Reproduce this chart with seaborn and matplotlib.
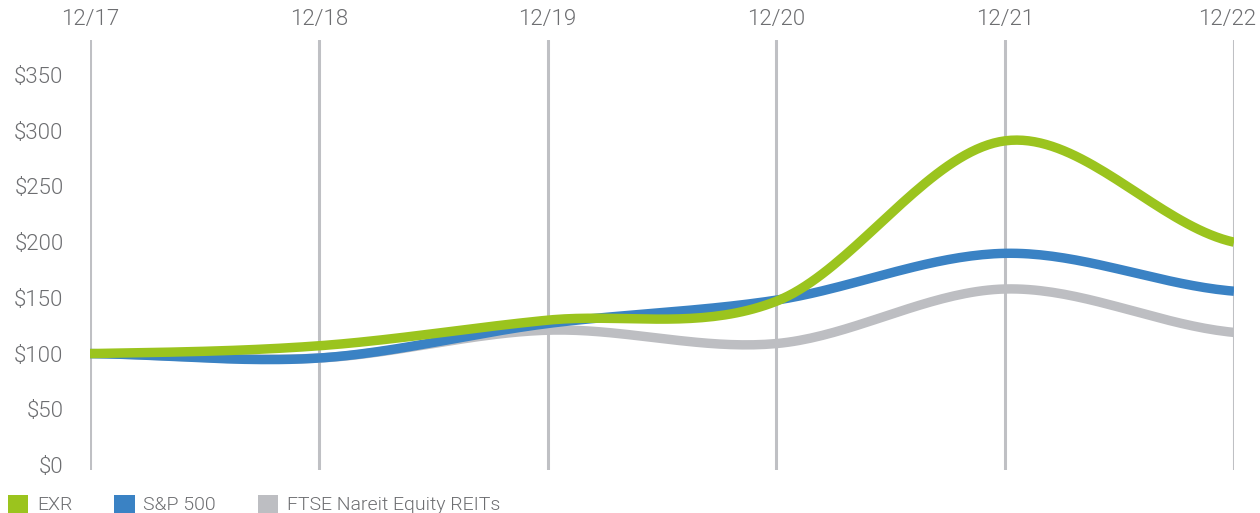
import numpy as np
import pandas as pd
import matplotlib
matplotlib.use("Agg")
import matplotlib.pyplot as plt
import matplotlib.transforms as mtransforms
import seaborn as sns
from matplotlib.patches import Patch

# -----------------------------
# Data (cumulative value of $100 invested)
# -----------------------------
periods = ["12/17", "12/18", "12/19", "12/20", "12/21", "12/22"]
exr = [100, 107, 130, 147, 291, 200]
sp500 = [100, 96, 127, 148, 190, 156]
ftse_reits = [100, 96, 121, 109, 158, 119]
y_ticks = [0, 50, 100, 150, 200, 250, 300, 350]

series_names = ["FTSE Nareit Equity REITs", "S&P 500", "EXR"]
series_values = [ftse_reits, sp500, exr]
colors = {"EXR": "#9bc41e", "S&P 500": "#3a82c4", "FTSE Nareit Equity REITs": "#bdbec2"}
legend_order = ["EXR", "S&P 500", "FTSE Nareit Equity REITs"]

TEXT = "#6d6e71"
GRID = "#bfc0c4"


def smooth_line(values, steps=40):
    # Excel-style smoothed line (cardinal spline through the points)
    y = np.asarray(values, dtype=float)
    n = len(y)
    tang = np.zeros(n)
    tang[1:-1] = (y[2:] - y[:-2]) / 2
    tang[0] = (y[1] - y[0]) / 2
    tang[-1] = (y[-1] - y[-2]) / 2
    xs, ys = [], []
    for i in range(n - 1):
        t = np.linspace(0, 1, steps, endpoint=(i == n - 2))
        h00 = 2 * t**3 - 3 * t**2 + 1
        h10 = t**3 - 2 * t**2 + t
        h01 = -2 * t**3 + 3 * t**2
        h11 = t**3 - t**2
        xs.append(i + t)
        ys.append(h00 * y[i] + h10 * tang[i] + h01 * y[i + 1] + h11 * tang[i + 1])
    return np.concatenate(xs), np.concatenate(ys)


sns.set_style("white")
plt.rcParams["font.family"] = ["Roboto", "DejaVu Sans"]
plt.rcParams["font.weight"] = 300

fig = plt.figure(figsize=(12.6, 5.13), dpi=100)
ax = fig.add_axes([90 / 1260, 1 - 470 / 513, (1234 - 90) / 1260, 430 / 513])

for name, vals in zip(series_names, series_values):
    sx, sy = smooth_line(vals)
    df = pd.DataFrame({"x": sx, "y": sy})
    sns.lineplot(data=df, x="x", y="y", ax=ax, color=colors[name],
                 linewidth=6.8, sort=False, solid_capstyle="butt", zorder=3)

ax.set_xlim(0, len(periods) - 1)
ax.set_ylim(-4.5, 381.5)

ax.set_xticks(range(len(periods)))
ax.set_xticklabels(periods)
ax.xaxis.tick_top()
ax.set_yticks(y_ticks)
ax.set_yticklabels([f"${v}" for v in y_ticks])
ax.tick_params(axis="x", length=0, pad=7, labelsize=16, labelcolor=TEXT)
ax.tick_params(axis="y", length=0, pad=19, labelsize=16, labelcolor=TEXT)
for lbl in ax.get_yticklabels():
    lbl.set_horizontalalignment("right")

# keep the last date label inside the picture
last = ax.get_xticklabels()[-1]
last.set_transform(last.get_transform() + mtransforms.ScaledTranslation(-7 / 100, 0, fig.dpi_scale_trans))

ax.grid(axis="x", color=GRID, linewidth=2.2, zorder=1)
ax.grid(axis="y", visible=False)
ax.set_axisbelow(True)
for s in ax.spines.values():
    s.set_visible(False)
ax.set_xlabel("")
ax.set_ylabel("")

handles = [Patch(facecolor=colors[n], edgecolor="none", label=n) for n in legend_order]
fig.legend(handles=handles, loc="lower left", bbox_to_anchor=(0.0, -0.018), ncol=3,
           frameon=False, fontsize=14, labelcolor=TEXT, handlelength=1.05, handleheight=1.05,
           handletextpad=0.45, columnspacing=2.15, borderaxespad=0)

fig.savefig("out.png", dpi=100)
